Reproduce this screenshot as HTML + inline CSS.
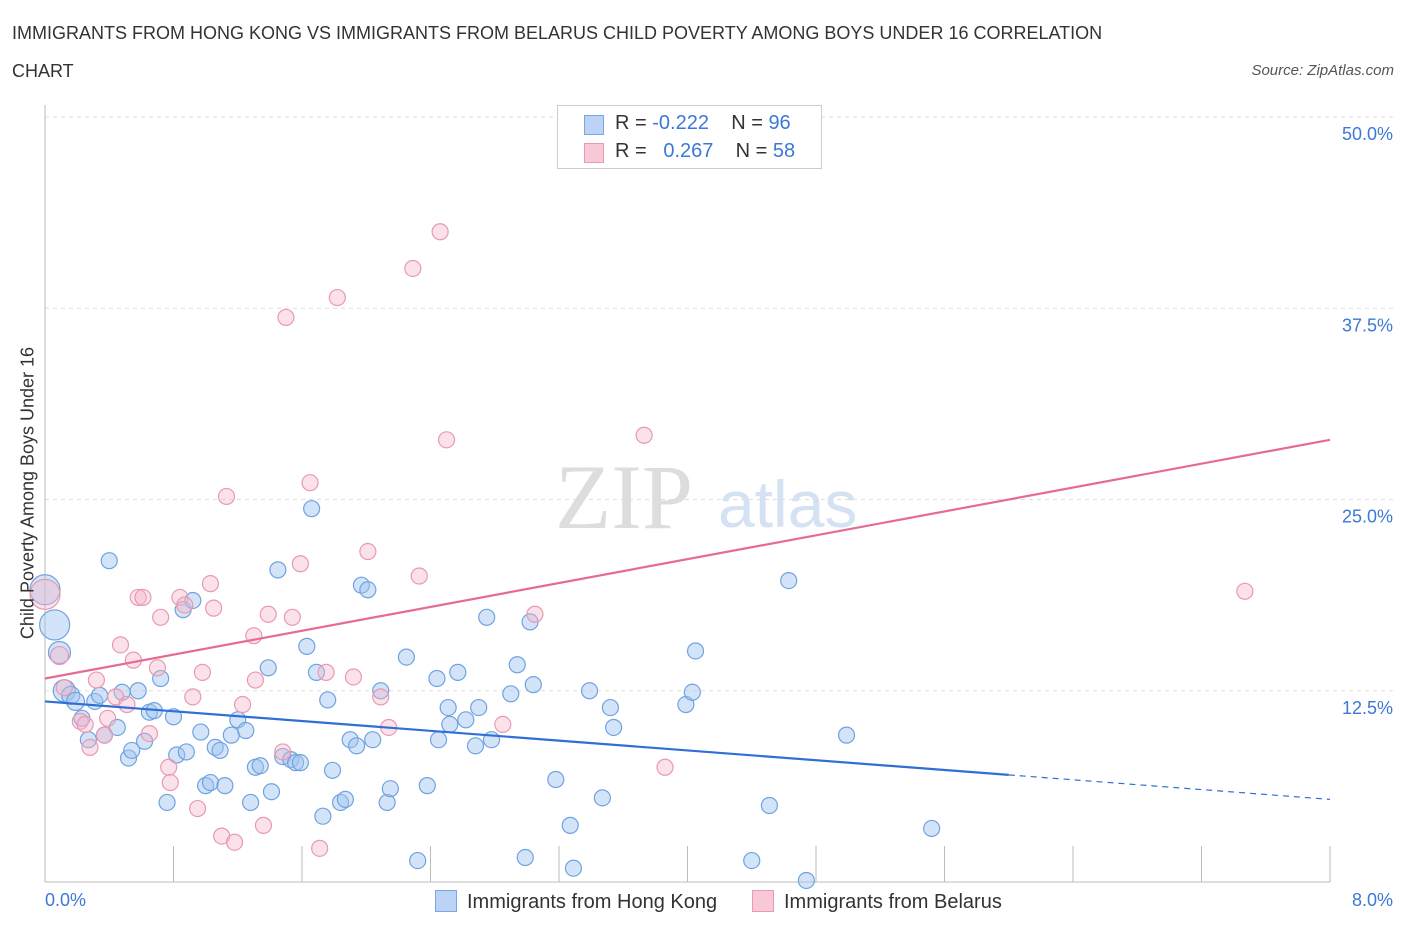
<!DOCTYPE html>
<html><head><meta charset="utf-8"><style>
body{margin:0;background:#fff;font-family:"Liberation Sans",sans-serif;}
#wrap{position:relative;width:1406px;height:930px;overflow:hidden;}
.t{position:absolute;white-space:nowrap;}
</style></head><body>
<div id="wrap">
<div class="t" style="left:12px;top:14px;font-size:18px;color:#333;line-height:38px;width:1145px;white-space:normal">IMMIGRANTS FROM HONG KONG VS IMMIGRANTS FROM BELARUS CHILD POVERTY AMONG BOYS UNDER 16 CORRELATION CHART</div>
<div class="t" style="right:12px;top:62px;font-size:15px;color:#555;font-style:italic">Source: ZipAtlas.com</div>
<svg id="svg" width="1406" height="930" style="position:absolute;left:0;top:0"></svg>
</div>
<script>
const blueX=[0,0.06,0.09,0.12,0.16,0.19,0.23,0.27,0.31,0.34,0.37,0.40,0.45,0.48,0.52,0.54,0.58,0.62,0.65,0.68,0.72,0.76,0.80,0.82,0.86,0.88,0.92,0.97,1.0,1.03,1.06,1.09,1.12,1.16,1.20,1.25,1.28,1.31,1.34,1.39,1.41,1.45,1.48,1.53,1.56,1.59,1.63,1.66,1.69,1.73,1.76,1.79,1.84,1.87,1.90,1.94,1.97,2.01,2.04,2.09,2.13,2.15,2.25,2.32,2.38,2.44,2.45,2.51,2.52,2.57,2.62,2.68,2.70,2.75,2.78,2.90,2.94,2.99,3.02,3.04,3.18,3.27,3.29,3.39,3.47,3.52,3.54,3.99,4.03,4.05,4.40,4.51,4.63,4.74,4.99,5.52];
const blueY=[19.1,16.8,15.0,12.5,12.2,11.8,10.7,9.3,11.8,12.2,9.6,21.0,10.1,12.4,8.1,8.6,12.5,9.2,11.1,11.2,13.3,5.2,10.8,8.3,17.8,8.5,18.4,9.8,6.3,6.5,8.8,8.6,6.3,9.6,10.6,9.9,5.2,7.5,7.6,14.0,5.9,20.4,8.2,8.0,7.8,7.8,15.4,24.4,13.7,4.3,11.9,7.3,5.2,5.4,9.3,8.9,19.4,19.1,9.3,12.5,5.2,6.1,14.7,1.4,6.3,13.3,9.3,11.4,10.3,13.7,10.6,8.9,11.4,17.3,9.3,12.3,14.2,1.6,17.0,12.9,6.7,3.7,0.9,12.5,5.5,11.4,10.1,11.6,12.4,15.1,1.4,5.0,19.7,0.1,9.6,3.5];
const pinkX=[0,0.09,0.12,0.22,0.25,0.28,0.32,0.37,0.39,0.44,0.47,0.51,0.55,0.58,0.61,0.65,0.70,0.72,0.77,0.78,0.84,0.87,0.92,0.95,0.98,1.03,1.05,1.10,1.13,1.18,1.23,1.30,1.31,1.36,1.39,1.48,1.50,1.54,1.59,1.65,1.71,1.75,1.82,1.92,2.01,2.09,2.14,2.29,2.33,2.46,2.50,2.85,3.05,3.73,3.86,7.47];
const pinkY=[18.8,14.8,12.7,10.5,10.3,8.8,13.2,9.6,10.7,12.1,15.5,11.6,14.5,18.6,18.6,9.7,14.0,17.3,7.5,6.5,18.6,18.1,12.1,4.8,13.7,19.5,17.9,3.0,25.2,2.6,11.6,16.1,13.2,3.7,17.5,8.5,36.9,17.3,20.8,26.1,2.2,13.7,38.2,13.4,21.6,12.1,10.1,40.1,20.0,42.5,28.9,10.3,17.5,29.2,7.5,19.0];
const blueR=[15,15,11,11,9,9];
const pinkR=[15,9];
const blueTrend=[11.8,7.0,5.4]; // at x=0, 6.0, 8.0
const pinkTrend=[13.3,28.9]; // at x=0, 8.0
const yTicks=[12.5,25.0,37.5,50.0];
const X0=45,X1=1330,Y0=882,Y50=117;
const sx=v=>X0+(X1-X0)*v/8, sy=v=>Y0-(Y0-Y50)*v/50;
const svg=document.getElementById('svg');const NS='http://www.w3.org/2000/svg';
function mk(t,a,p){const e=document.createElementNS(NS,t);for(const k in a)e.setAttribute(k,a[k]);(p||svg).appendChild(e);return e;}
yTicks.forEach(v=>{
 const g=mk('line',{x1:X0,x2:1395,y1:sy(v),y2:sy(v),stroke:'#ddd','stroke-dasharray':'4,4'});
 
 
 const t=mk('text',{x:1393,y:sy(v)+23,'text-anchor':'end','font-size':18,fill:'#3b78d8','font-family':'Liberation Sans'});
 t.textContent=v.toFixed(1)+'%';
 
 
});
mk('line',{x1:X0,x2:X0,y1:105,y2:Y0,stroke:'#bbb'});
mk('line',{x1:X0,x2:X1,y1:Y0,y2:Y0,stroke:'#bbb'});
for(let i=0;i<=10;i++){mk('line',{x1:sx(i*0.8),x2:sx(i*0.8),y1:Y0,y2:Y0-36,stroke:'#bbb'});}
const w=mk('text',{x:555,y:528,'font-size':92,fill:'#ddd','font-family':'Liberation Serif'});w.textContent='ZIP';


const w2=mk('text',{x:718,y:527,'font-size':66,fill:'#d4e2f4','font-family':'Liberation Sans'});w2.textContent='atlas';
function dots(xs,ys,rs,fill,stroke,name){xs.forEach((x,i)=>{const c=mk('circle',{cx:sx(x),cy:sy(ys[i]),r:rs[i]||8,fill:fill,stroke:stroke,'stroke-width':1.2});
 
 });}
dots(blueX,blueY,blueR,'rgba(160,196,240,0.45)','#6fa3e0','hong-kong-point');
dots(pinkX,pinkY,pinkR,'rgba(245,180,200,0.4)','#e89ab3','belarus-point');
const bl=mk('line',{x1:sx(0),y1:sy(blueTrend[0]),x2:sx(6),y2:sy(blueTrend[1]),stroke:'#2f6fd6','stroke-width':2.2});


mk('line',{x1:sx(6),y1:sy(blueTrend[1]),x2:sx(8),y2:sy(blueTrend[2]),stroke:'#2f6fd6','stroke-width':1.2,'stroke-dasharray':'6,5'});
const pl=mk('line',{x1:sx(0),y1:sy(pinkTrend[0]),x2:sx(8),y2:sy(pinkTrend[1]),stroke:'#e56b96','stroke-width':2.2});


</script>
<div class="t" style="left:28px;top:493px;transform:translate(-50%,-50%) rotate(-90deg);font-size:18px;color:#333">Child Poverty Among Boys Under 16</div>
<div class="t" style="left:45px;top:890px;font-size:18px;color:#3b78d8">0.0%</div>
<div class="t" style="right:13px;top:890px;font-size:18px;color:#3b78d8">8.0%</div>
<div style="position:absolute;left:557px;top:105px;width:263px;height:62px;border:1px solid #ccc;background:#fff;font-size:20px;color:#333">
 <div style="position:absolute;left:26px;top:9px;width:18px;height:18px;background:#bcd3f5;border:1px solid #7aa7e3"></div>
 <div class="t" style="left:57px;top:6px">R = <span style="color:#3b78d8">-0.222</span>&nbsp;&nbsp;&nbsp;&nbsp;N = <span style="color:#3b78d8">96</span></div>
 <div style="position:absolute;left:26px;top:37px;width:18px;height:18px;background:#f8c8d7;border:1px solid #e89ab3"></div>
 <div class="t" style="left:57px;top:34px">R = &nbsp;&nbsp;<span style="color:#3b78d8">0.267</span>&nbsp;&nbsp;&nbsp;&nbsp;N = <span style="color:#3b78d8">58</span></div>
</div>
<div style="position:absolute;left:435px;top:890px;font-size:20px;color:#333">
 <span style="display:inline-block;width:20px;height:20px;background:#bcd3f5;border:1px solid #7aa7e3;vertical-align:-4px;margin-right:10px"></span>Immigrants from Hong Kong</div>
<div style="position:absolute;left:752px;top:890px;font-size:20px;color:#333">
 <span style="display:inline-block;width:20px;height:20px;background:#f8c8d7;border:1px solid #e89ab3;vertical-align:-4px;margin-right:10px"></span>Immigrants from Belarus</div>
</body></html>
